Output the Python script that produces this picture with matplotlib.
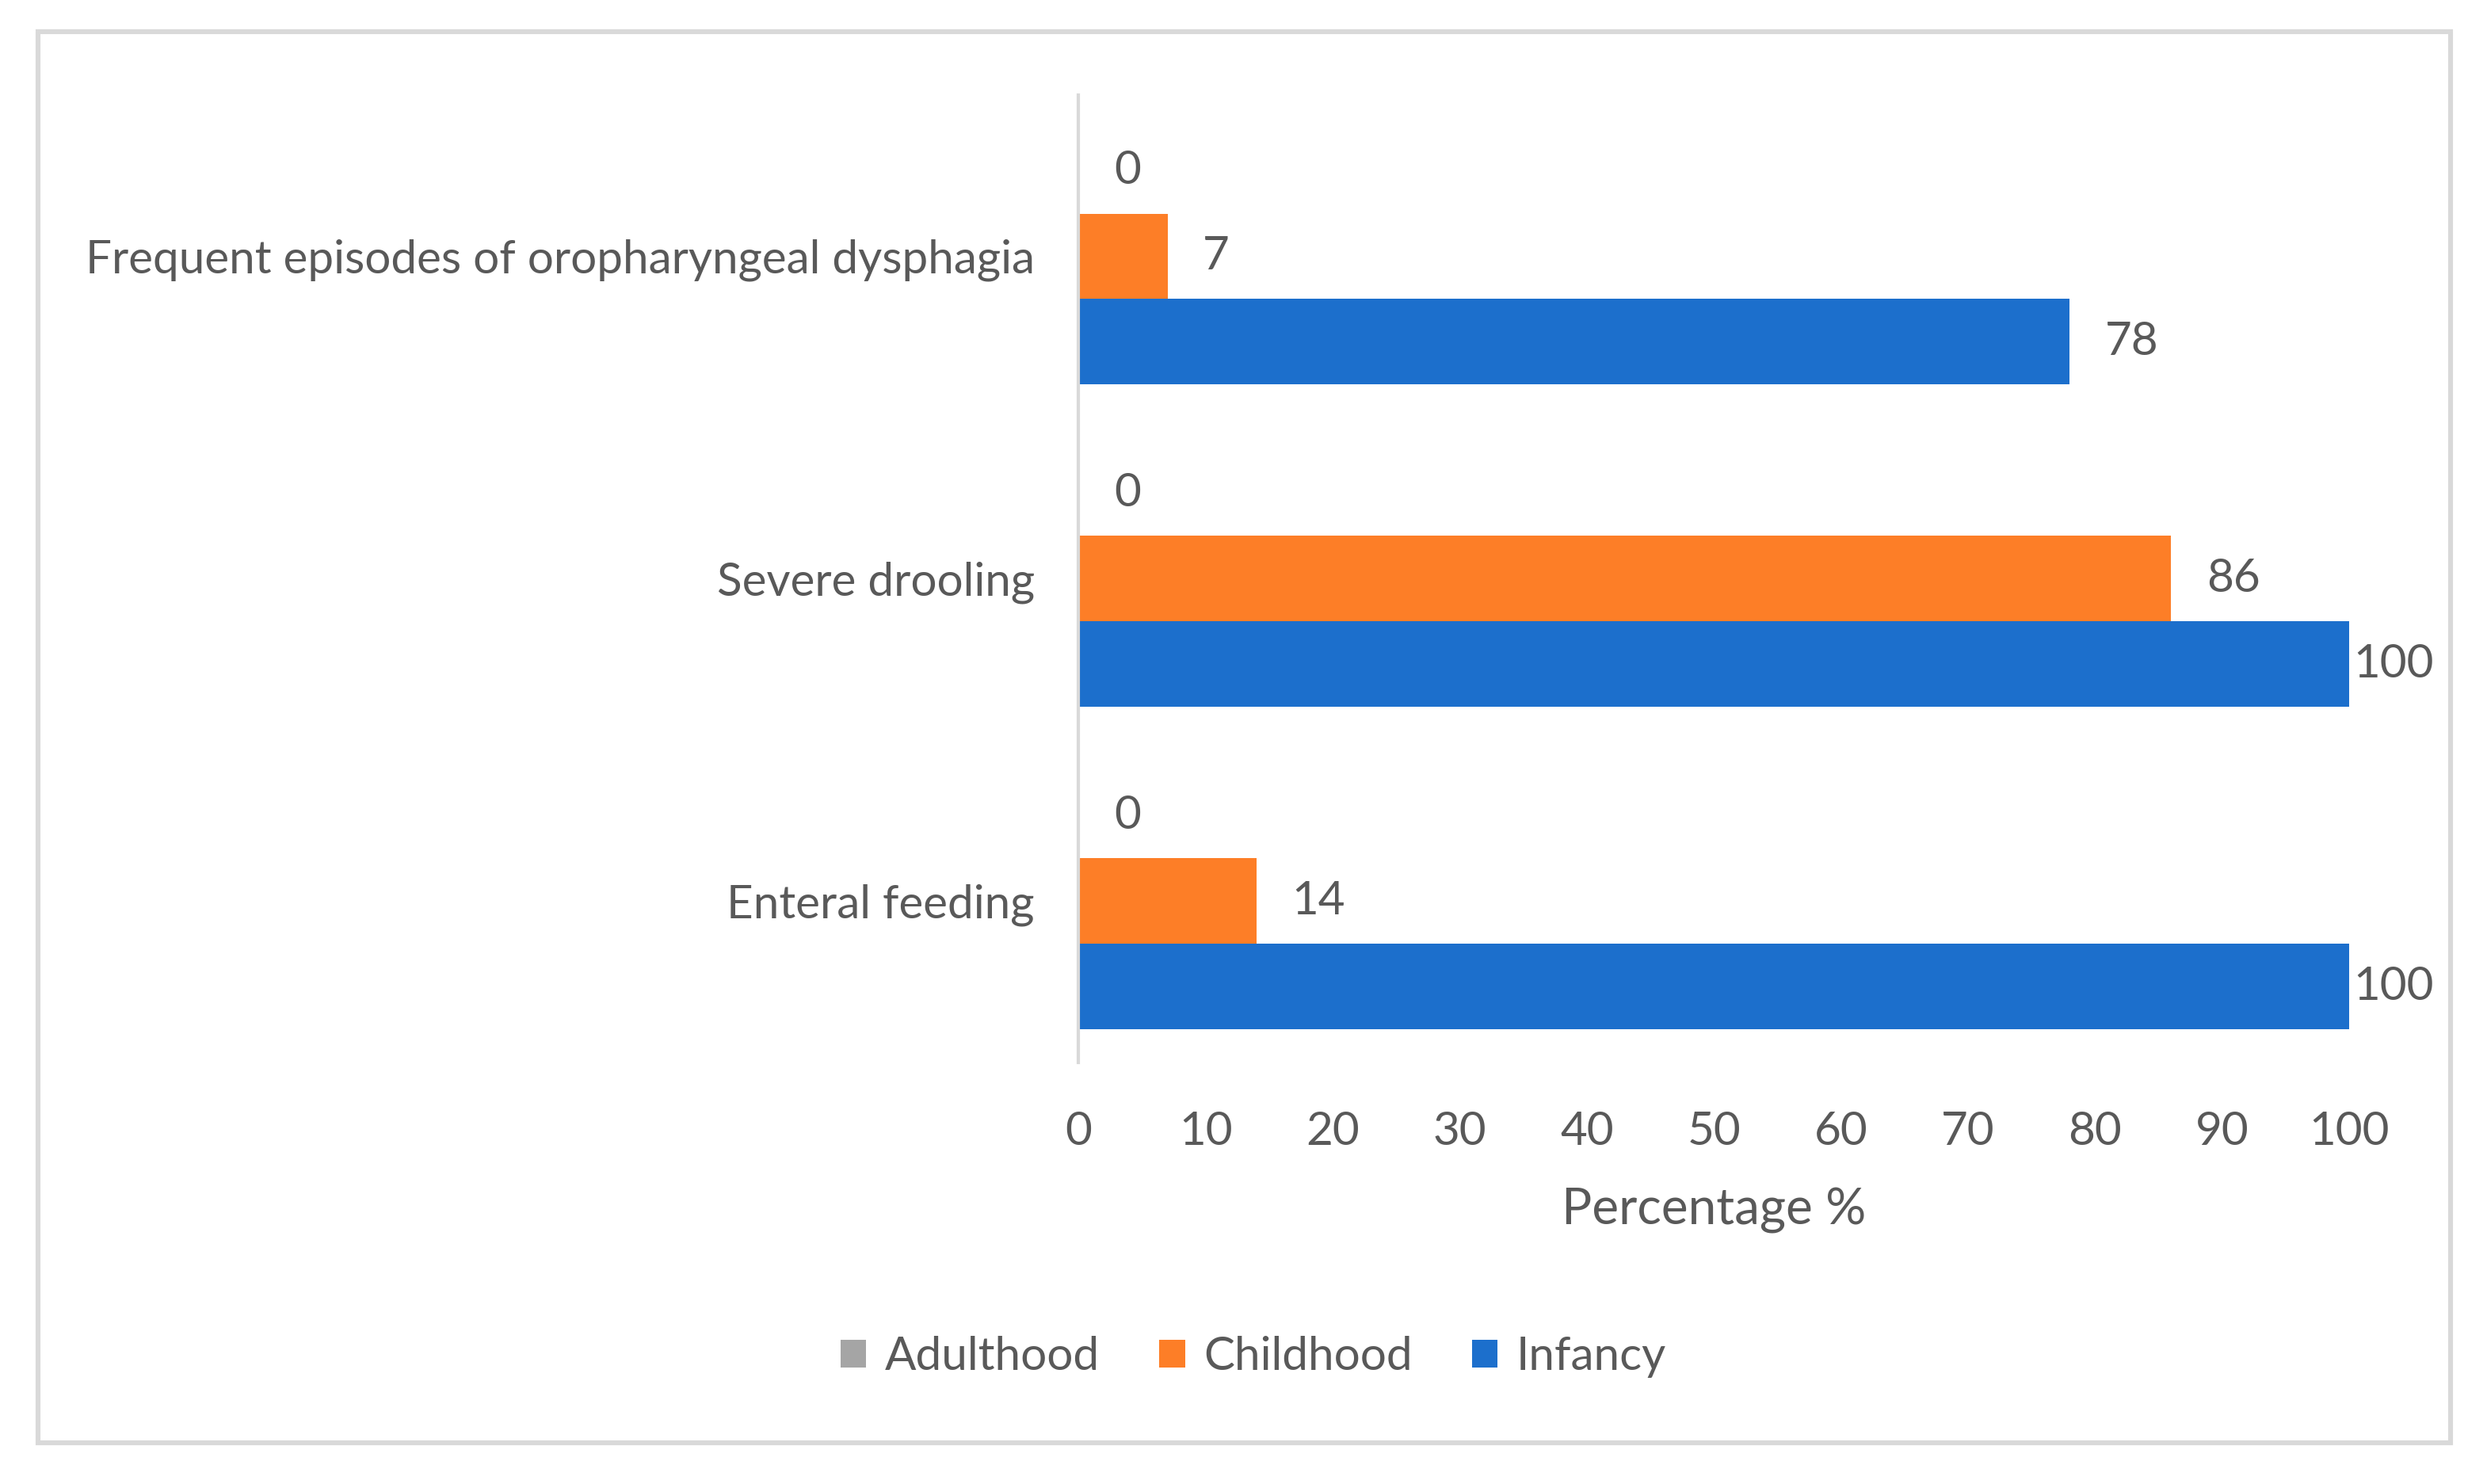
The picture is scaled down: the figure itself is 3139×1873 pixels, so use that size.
import matplotlib
matplotlib.use("Agg")
import matplotlib.pyplot as plt
from matplotlib.patches import Rectangle, Patch
import numpy as np

categories = ["Enteral feeding", "Severe drooling", "Frequent episodes of oropharyngeal dysphagia"]
series_names = ["Adulthood", "Childhood", "Infancy"]
adulthood = [0, 0, 0]
childhood = [14, 86, 7]
infancy = [100, 100, 78]
xticks = [0, 10, 20, 30, 40, 50, 60, 70, 80, 90, 100]
xlabel = "Percentage %"

colors = {"Adulthood": "#A5A5A5", "Childhood": "#FD7E27", "Infancy": "#1C6FCC"}
text_color = "#595959"
fam = ["Lato", "DejaVu Sans"]
plt.rcParams['font.family'] = fam
fs = 21

W, H = 3139, 1873
dpi = 200
fig = plt.figure(figsize=(W / dpi, H / dpi), dpi=dpi, facecolor="white")
ax = fig.add_axes([0.4337, 0.2842, 0.9445 - 0.4337, 0.9359 - 0.2842])

y = np.arange(len(categories))
h = 0.265
vals = {"Adulthood": adulthood, "Childhood": childhood, "Infancy": infancy}
offsets = {"Adulthood": h, "Childhood": 0.0, "Infancy": -h}
for name in series_names:
    v = vals[name]
    ax.barh(y + offsets[name], v, height=h, color=colors[name], label=name)
    for yi, val in zip(y + offsets[name], v):
        off = 16 if val < 95 else 2
        ax.annotate(f"{val}", xy=(val, yi), xytext=(off, 0), textcoords="offset points",
                    ha="left", va="center", fontsize=fs, color=text_color)

ax.set_xlim(0, 100)
ax.set_ylim(-0.5, 2.5)
ax.set_xticks(xticks)
ax.set_xticklabels([str(t) for t in xticks], fontsize=fs, color=text_color)
ax.set_yticks(y)
ax.set_yticklabels(categories, fontsize=fs, color=text_color)
ax.tick_params(axis="both", length=0)
ax.tick_params(axis="x", pad=22)
ax.tick_params(axis="y", pad=20)
ax.set_xlabel(xlabel, fontsize=fs + 2, color=text_color, labelpad=16)
for s in ["top", "right", "bottom"]:
    ax.spines[s].set_visible(False)
ax.spines["left"].set_color("#D9D9D9")
ax.spines["left"].set_linewidth(1.5)

handles = [Patch(facecolor=colors[n], edgecolor="none") for n in series_names]
fig.legend(handles, series_names, loc="center", bbox_to_anchor=(0.504, 0.0855), ncol=3,
           frameon=False, fontsize=fs, handlelength=0.55, handleheight=0.55,
           handletextpad=0.4, columnspacing=1.3, labelcolor=text_color)

border = Rectangle((24 / 1568, 1 - 910 / 936), (1545 - 24) / 1568, (910 - 20) / 936,
                   transform=fig.transFigure, fill=False, edgecolor="#D9D9D9", linewidth=2.2)
fig.patches.append(border)

fig.savefig("out.png", dpi=dpi, facecolor="white")
